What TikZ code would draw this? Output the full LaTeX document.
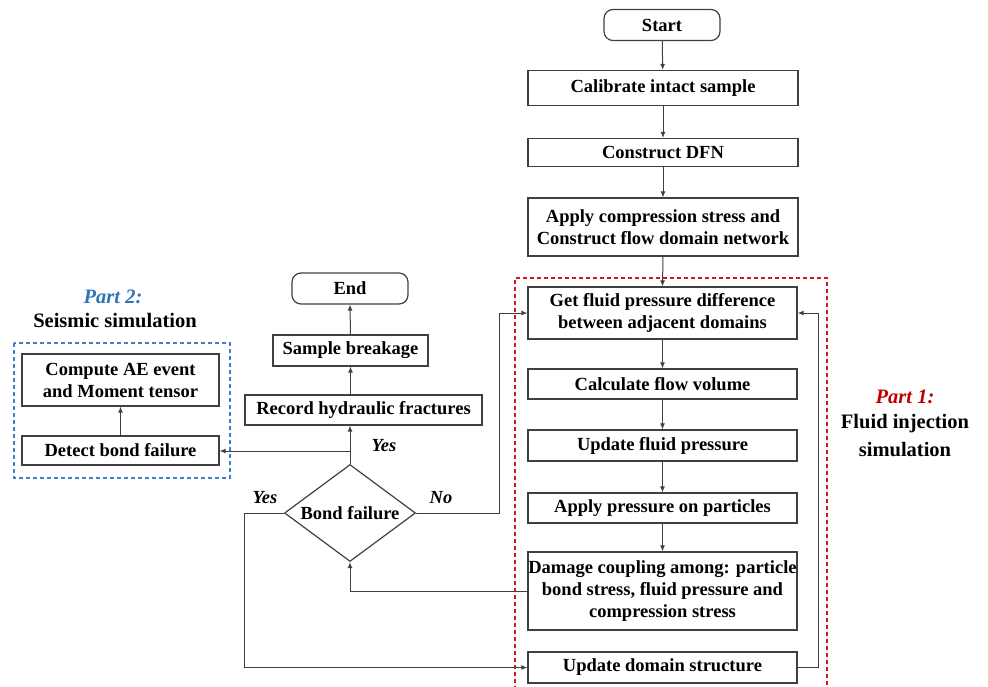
\documentclass[tikz,border=0pt]{standalone}
\usepackage{fontspec}
\setmainfont{Liberation Serif}
\usetikzlibrary{shapes.geometric,arrows.meta}
\definecolor{ln}{HTML}{404040}
\definecolor{redd}{HTML}{D9141E}
\definecolor{blued}{HTML}{3A80CC}
\definecolor{p1}{HTML}{C00000}
\definecolor{p2}{HTML}{2E75B6}
\tikzset{
  box/.style={draw=ln, line width=1.2pt, rectangle, align=center, inner sep=1pt,
    font=\fontsize{18.5}{22}\selectfont\bfseries, minimum width=270pt},
  term/.style={box, rounded corners=9pt, minimum width=116pt, minimum height=31pt},
  arr/.style={draw=ln, line width=1pt, -{Latex[length=6pt,width=5pt]}},
  lab/.style={font=\fontsize{20.5}{26}\selectfont\bfseries, align=center},
  yn/.style={font=\fontsize{18.5}{22}\selectfont\bfseries\itshape}
}
\begin{document}
\begin{tikzpicture}[x=1pt,y=-1pt]
\useasboundingbox (0,0) rectangle (988,687);
% right column
\node[term] (start) at (662,25) {Start};
\node[box, minimum height=35pt] (calib) at (663,88) {Calibrate intact sample};
\node[box, minimum height=28pt] (dfn) at (663,152.5) {Construct DFN};
\node[box, minimum height=58pt] (apply) at (663,227) {Apply compression stress and\\Construct flow domain network};
\node[box, minimum width=269pt, minimum height=52pt] (getf) at (662.5,313) {Get fluid pressure difference\\between adjacent domains};
\node[box, minimum width=269pt, minimum height=30pt] (calc) at (662.5,384) {Calculate flow volume};
\node[box, minimum width=269pt, minimum height=31pt] (updf) at (662.5,445.5) {Update fluid pressure};
\node[box, minimum width=269pt, minimum height=30pt] (applyp) at (662.5,508) {Apply pressure on particles};
\node[box, minimum width=269pt, minimum height=78pt, inner sep=0pt] (damage) at (662.5,591) {Damage coupling among: particle\\bond stress, fluid pressure and\\compression stress};
\node[box, minimum width=269pt, minimum height=31pt] (upd) at (662.5,667.5) {Update domain structure};
% middle column
\node[term] (end) at (350,288.5) {End};
\node[box, minimum width=155pt, minimum height=31pt] (sample) at (350.5,350.5) {Sample breakage};
\node[box, minimum width=237pt, minimum height=30pt] (record) at (363.5,410) {Record hydraulic fractures};
\node[draw=ln, line width=1.2pt, diamond, minimum width=131pt, minimum height=97pt, inner sep=0pt] (dia) at (350,513) {};
\node[font=\fontsize{18.5}{22}\selectfont\bfseries] (dtext) at (350,513) {Bond failure};
% left column
\node[box, minimum width=197pt, minimum height=52pt] (compute) at (120.5,380) {Compute AE event\\and Moment tensor};
\node[box, minimum width=197pt, minimum height=29pt] (detect) at (120.5,450.5) {Detect bond failure};
% dashed groups
\draw[blued, line width=1.4pt, dash pattern=on 4pt off 3pt] (14,343) rectangle (230,478);
\draw[redd, line width=1.5pt, dash pattern=on 4pt off 3pt] (515,690) -- (515,278) -- (827,278) -- (827,690);
% labels
\node[lab, text=p2] (p2a) at (113,297) {\itshape Part 2:};
\node[lab] (p2b) at (115,321) {Seismic simulation};
\node[lab, text=p1] (p1a) at (905,397) {\itshape Part 1:};
\node[lab] (p1b) at (905,424) {Fluid injection};
\node[lab] (p1c) at (905,450) {simulation};
\node[yn] (yes1) at (384,446) {Yes};
\node[yn] (yes2) at (265,498) {Yes};
\node[yn] (no) at (441,498) {No};
% connectors
\draw[arr] (start) -- (calib);
\draw[arr] (calib) -- (dfn);
\draw[arr] (dfn) -- (apply);
\draw[arr] (apply.south) -- (getf.north);
\draw[arr] (getf) -- (calc);
\draw[arr] (calc) -- (updf);
\draw[arr] (updf) -- (applyp);
\draw[arr] (applyp) -- (damage);
\coordinate (loopR) at (818,667.5);
\draw[arr] (upd.east) -- (loopR) |- (getf.east);
\draw[arr] (damage.west) -| (dia.south);
\coordinate (noC) at (499,513);
\draw[arr] (dia.east) -- (noC) |- (getf.west);
\coordinate (yesC) at (244,513);
\draw[arr] (dia.west) -- (yesC) |- (upd.west);
\draw[arr] (dia.north) -- (dia.north |- record.south);
\coordinate (br) at (350,451);
\draw[arr] (br) -- (br -| detect.east);
\draw[arr] (record.north -| sample.south) -- (sample.south);
\draw[arr] (sample.north) -- (end.south);
\draw[arr] (detect.north) -- (compute.south);
\end{tikzpicture}
\end{document}
